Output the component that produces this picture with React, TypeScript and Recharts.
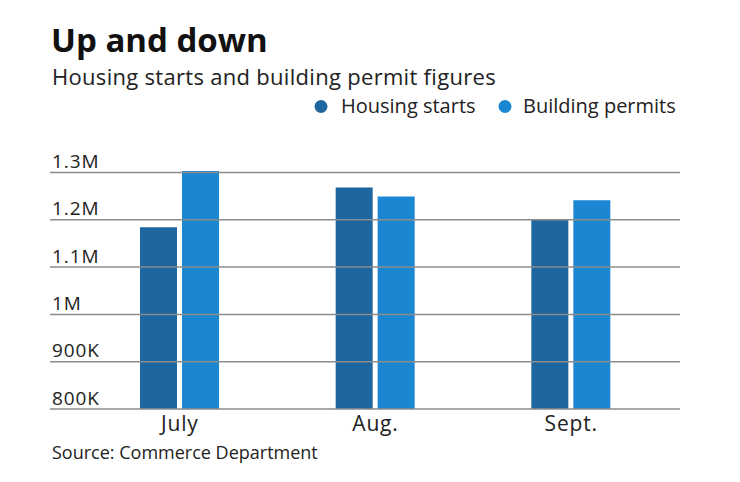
import React from "react";
import { BarChart, Bar, XAxis, YAxis, ReferenceLine } from "recharts";

const categories = ["July", "Aug.", "Sept."];
const housingStarts = [1184000, 1268000, 1201000];
const buildingPermits = [1303000, 1249000, 1241000];
const yTicks = [800000, 900000, 1000000, 1100000, 1200000, 1300000];
const yTickLabels = ["800K", "900K", "1M", "1.1M", "1.2M", "1.3M"];
const seriesNames = ["Housing starts", "Building permits"];
const seriesColors = ["#1d669f", "#1b87d3"];

const data = categories.map((c, i) => ({
  name: c,
  starts: housingStarts[i],
  permits: buildingPermits[i],
}));

const FONT = "'Open Sans', 'Noto Sans', sans-serif";

const YTick = (props: any) => {
  const { y, payload } = props;
  const idx = yTicks.indexOf(payload.value);
  return (
    <text x={52} y={y - 4.5} fontSize={19} letterSpacing={0.9} fill="#222" fontFamily={FONT} textAnchor="start">
      {idx >= 0 ? yTickLabels[idx] : ""}
    </text>
  );
};

const XTick = (props: any) => {
  const { x, y, payload } = props;
  return (
    <text x={x} y={y + 14} fontSize={21} letterSpacing={0.8} fill="#222" fontFamily={FONT} textAnchor="middle">
      {payload.value}
    </text>
  );
};

export default function App() {
  return (
    <div style={{ position: "absolute", left: 0, top: 0, width: 740, height: 482, background: "#fff", overflow: "hidden" }}>
      <svg width={740} height={482} style={{ position: "absolute", left: 0, top: 0 }}>
        <text x={51} y={52} fontSize={33} fontWeight={700} fill="#111" fontFamily={FONT}>
          Up and down
        </text>
        <text x={52} y={85} fontSize={22} letterSpacing={0.3} fill="#222" fontFamily={FONT}>
          Housing starts and building permit figures
        </text>
        <circle cx={321} cy={106.5} r={6.5} fill={seriesColors[0]} />
        <text x={341} y={113} fontSize={20} fill="#222" fontFamily={FONT}>
          {seriesNames[0]}
        </text>
        <circle cx={505} cy={106.5} r={6.5} fill={seriesColors[1]} />
        <text x={523} y={113} fontSize={20} fill="#222" fontFamily={FONT}>
          {seriesNames[1]}
        </text>
        <text x={52} y={459} fontSize={18} fill="#222" fontFamily={FONT}>
          Source: Commerce Department
        </text>
      </svg>
      <div style={{ position: "absolute", left: 0, top: 0 }}>
        <BarChart
          width={740}
          height={482}
          data={data}
          margin={{ top: 163, right: 60, bottom: 43, left: 49 }}
          barSize={37}
          barGap={5}
        >
          <XAxis
            dataKey="name"
            axisLine={false}
            tickLine={false}
            height={30}
            padding={{ left: 32, right: 11 }}
            tick={<XTick />}
            interval={0}
          />
          <YAxis
            width={1}
            domain={[800000, 1320000]}
            allowDataOverflow={true}
            ticks={yTicks}
            axisLine={false}
            tickLine={false}
            tick={<YTick />}
            interval={0}
          />
          {yTicks.map((t) => (
            <ReferenceLine key={t} y={t} stroke="#8c8c8c" strokeWidth={1.5} ifOverflow="extendDomain" />
          ))}
          <Bar dataKey="starts" name={seriesNames[0]} fill={seriesColors[0]} isAnimationActive={false} />
          <Bar dataKey="permits" name={seriesNames[1]} fill={seriesColors[1]} isAnimationActive={false} />
        </BarChart>
      </div>
    </div>
  );
}
